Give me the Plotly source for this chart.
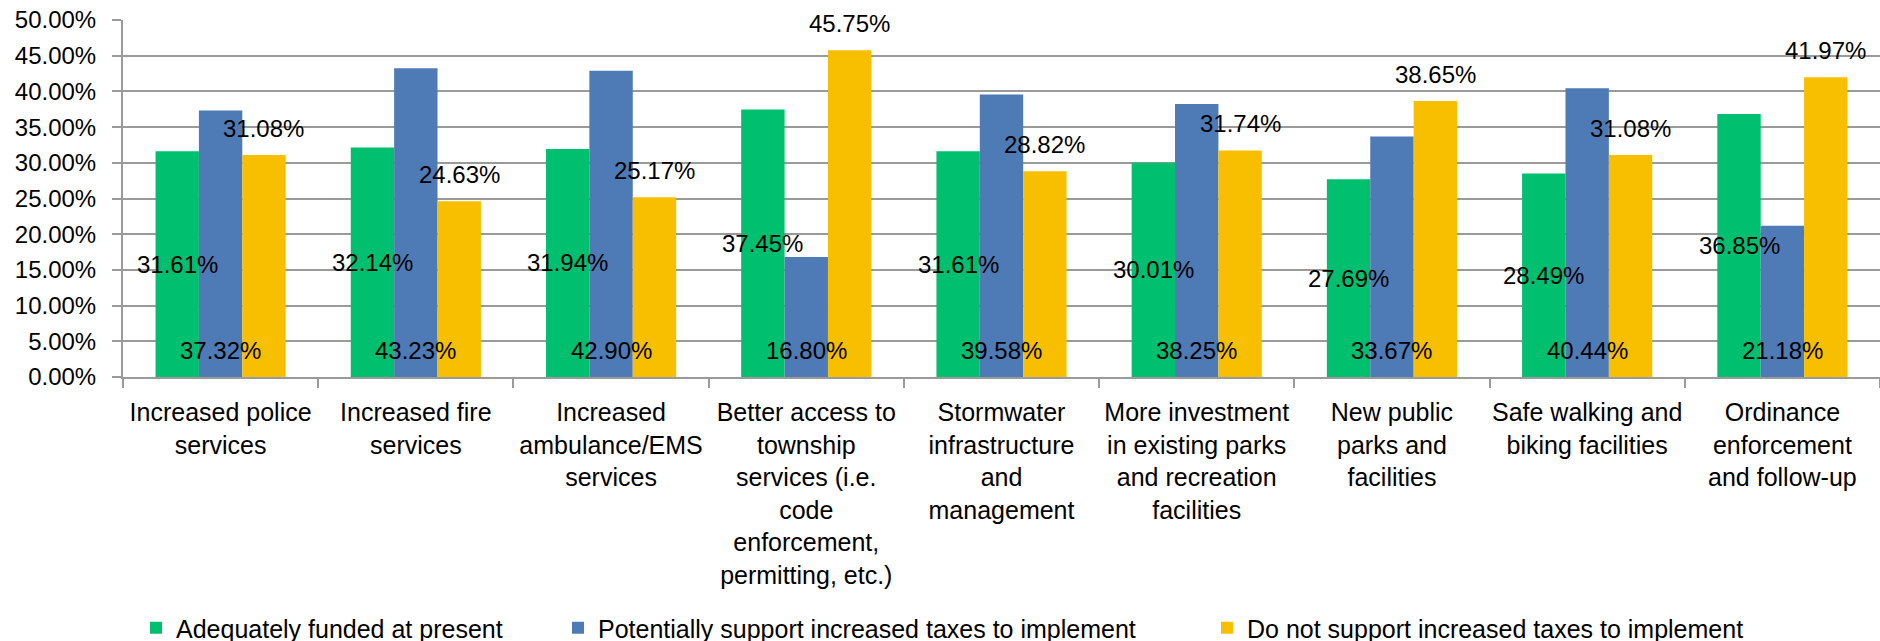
import plotly.graph_objects as go

categories = [
    "Increased police<br>services",
    "Increased fire<br>services",
    "Increased<br>ambulance/EMS<br>services",
    "Better access to<br>township<br>services (i.e.<br>code<br>enforcement,<br>permitting, etc.)",
    "Stormwater<br>infrastructure<br>and<br>management",
    "More investment<br>in existing parks<br>and recreation<br>facilities",
    "New public<br>parks and<br>facilities",
    "Safe walking and<br>biking facilities",
    "Ordinance<br>enforcement<br>and follow-up",
]
series_names = [
    "Adequately funded at present",
    "Potentially support increased taxes to implement",
    "Do not support increased taxes to implement",
]
adequately_funded = [31.61, 32.14, 31.94, 37.45, 31.61, 30.01, 27.69, 28.49, 36.85]
potentially_support = [37.32, 43.23, 42.90, 16.80, 39.58, 38.25, 33.67, 40.44, 21.18]
do_not_support = [31.08, 24.63, 25.17, 45.75, 28.82, 31.74, 38.65, 31.08, 41.97]
y_ticks = [0, 5, 10, 15, 20, 25, 30, 35, 40, 45, 50]

colors = ["#00BF6F", "#4E7AB5", "#F8BE00"]

W, H = 1880, 641
ML, MR, MT, MB = 123, 0, 20, 264
BARGAP = 1 / 3
plot_w = W - ML - MR
cat_w = plot_w / len(categories)
bar_w = cat_w * (1 - BARGAP) / 3

num_font = dict(family="Liberation Sans, Arial, sans-serif", size=24, color="#000000")
cat_font = dict(family="Liberation Sans, Arial, sans-serif", size=25, color="#000000")

legend_ids = ["legend", "legend2", "legend3"]
legend_text_x = [176, 598, 1247]

fig = go.Figure()
for name, vals, col, lg in zip(series_names,
                               [adequately_funded, potentially_support, do_not_support],
                               colors, legend_ids):
    fig.add_bar(x=categories, y=vals, name=name, legend=lg,
                marker=dict(color=col, line=dict(width=0)))

anns = []
for i, c in enumerate(categories):
    anns.append(dict(x=c, y=adequately_funded[i] / 2, text=f"{adequately_funded[i]:.2f}%",
                     xshift=-bar_w, yshift=0))
    anns.append(dict(x=c, y=0, text=f"{potentially_support[i]:.2f}%", xshift=0, yshift=27))
    anns.append(dict(x=c, y=do_not_support[i], text=f"{do_not_support[i]:.2f}%",
                     xshift=bar_w, yshift=27))
for a in anns:
    a.update(showarrow=False, xref="x", yref="y", yanchor="middle", xanchor="center", font=num_font)

legend_layout = {}
for lg, tx in zip(legend_ids, legend_text_x):
    legend_layout[lg] = dict(orientation="h", xref="container", yref="container",
                             x=(tx - 40) / W, xanchor="left", y=(H - 628) / H, yanchor="middle",
                             font=cat_font, itemwidth=30, bgcolor="rgba(0,0,0,0)")

fig.update_layout(
    template="none",
    width=W, height=H,
    margin=dict(l=ML, r=MR, t=MT, b=MB, pad=0),
    paper_bgcolor="white", plot_bgcolor="white",
    barmode="group", bargap=BARGAP, bargroupgap=0,
    annotations=anns,
    showlegend=True,
    **legend_layout,
)
fig.update_xaxes(
    showgrid=False, showline=True, linecolor="#9A9A9A", linewidth=2,
    ticks="outside", tickson="boundaries", ticklen=9, tickcolor="#9A9A9A", tickwidth=2,
    tickfont=cat_font, tickangle=0, automargin=False, ticklabelstandoff=12,
)
fig.update_yaxes(
    range=[0, 50], tickvals=y_ticks, ticktext=[f"{v:.2f}%" for v in y_ticks],
    showgrid=True, gridcolor="#9A9A9A", gridwidth=2, zeroline=False,
    showline=True, linecolor="#9A9A9A", linewidth=2,
    ticks="outside", ticklen=9, tickcolor="#9A9A9A", tickwidth=2,
    tickfont=num_font, automargin=False, ticklabelstandoff=11,
)

fig.write_html("out.html",
               config={"displayModeBar": False},
               post_script="document.body.style.margin='0';document.body.style.overflow='hidden';")
